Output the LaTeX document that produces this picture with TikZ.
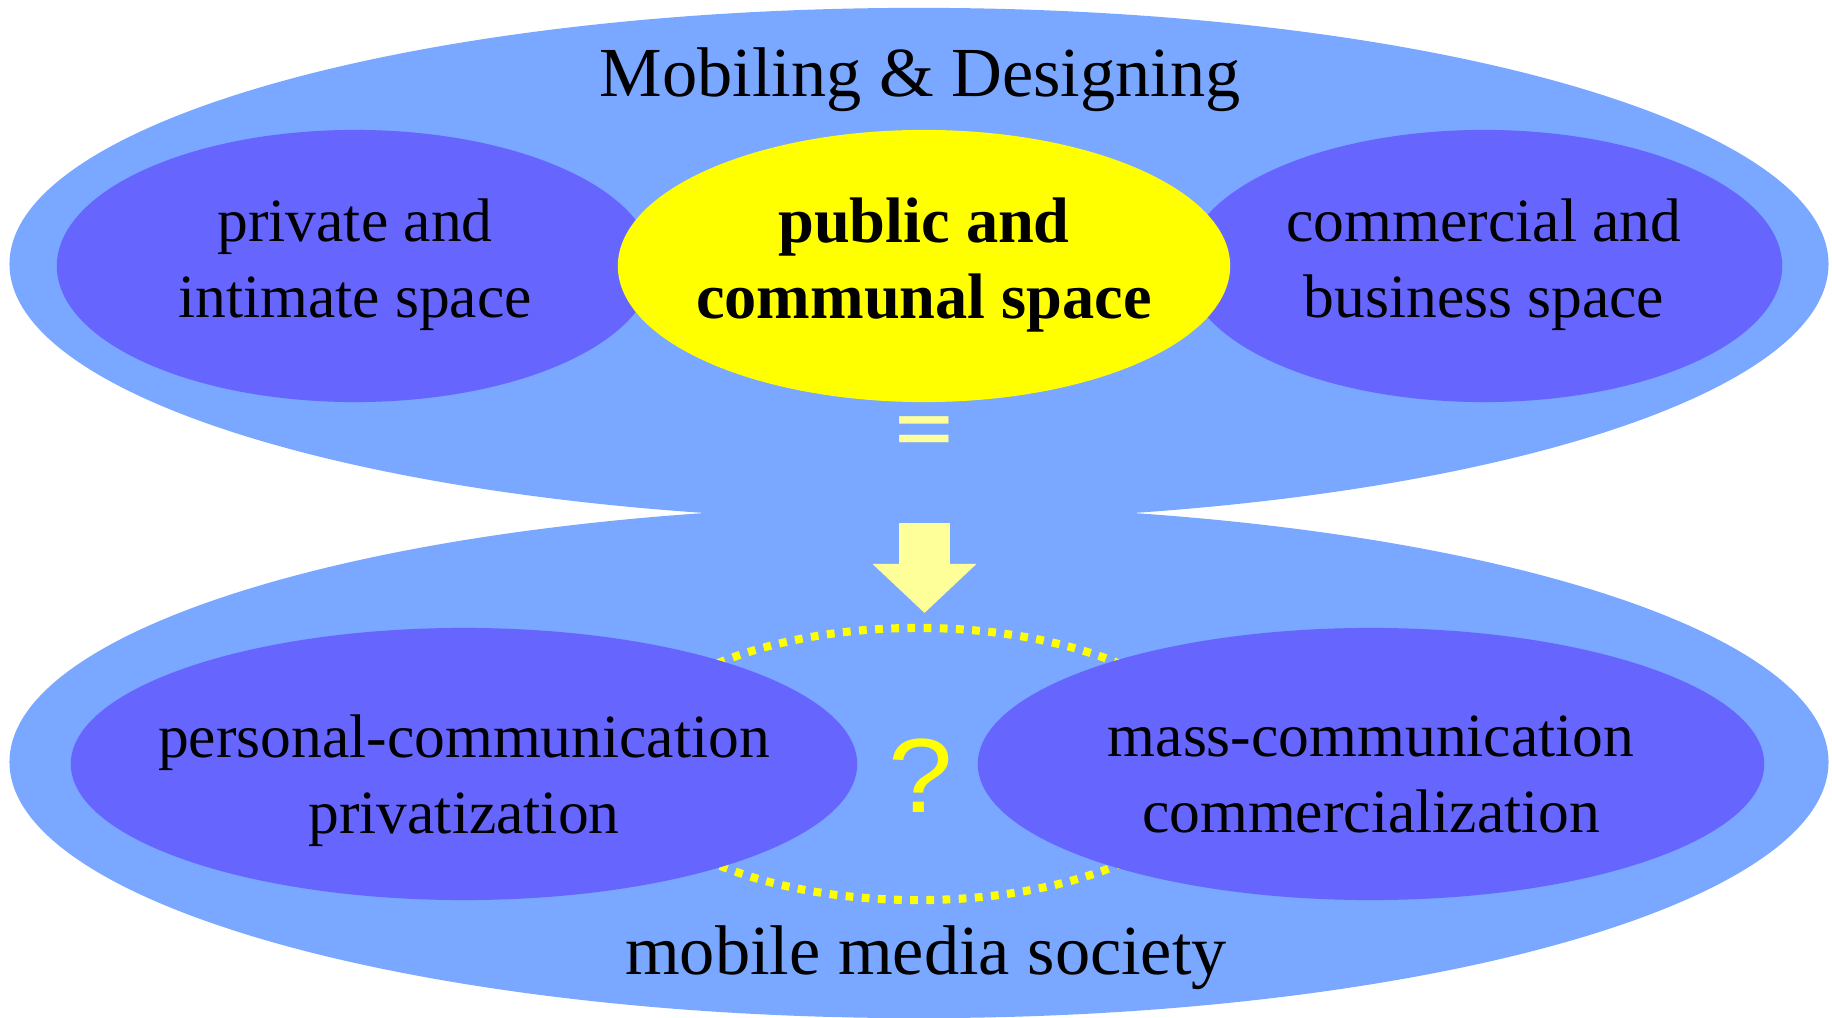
\documentclass[tikz,border=0pt]{standalone}
\usepackage{fontspec}
\setmainfont{Liberation Serif}
\newfontfamily\marksfont{Liberation Sans}
\usetikzlibrary{shapes.geometric,arrows.meta}
\definecolor{skyblue}{RGB}{122,167,255}
\definecolor{bandblue}{RGB}{102,102,255}
\definecolor{brightyellow}{RGB}{255,255,0}
\definecolor{paleyellow}{RGB}{255,255,153}

\begin{document}
\begin{tikzpicture}[x=0.01cm, y=-0.01cm,
    halo/.style={ellipse, fill=skyblue, inner sep=0pt,
                 minimum width=18.18cm, minimum height=5.12cm},
    caption/.style={align=center, font=\fontsize{17.5}{21.6}\selectfont},
    zone/.style={ellipse, fill=bandblue, inner sep=0pt,
                 minimum width=5.96cm, minimum height=2.72cm},
    widezone/.style={zone, minimum width=7.86cm},
    ring/.style={ellipse, draw=brightyellow, line width=2.3pt,
                 dash pattern=on 2.2pt off 2.4pt,
                 minimum width=5.96cm, minimum height=2.72cm},
    heading/.style={anchor=base, font=\fontsize{20}{24}\selectfont}]
\useasboundingbox (0,0) rectangle (1832,1018);
\node[halo] (mobiling) at (919,264) {};
\node[halo] (society)  at (919,762) {};
\node[zone] (private)    at (355,266)  {};
\node[zone] (commercial) at (1484,266) {};
\node[zone, fill=brightyellow, minimum width=6.12cm] (public) at (924,266) {};
\node[ring] (between) at (918,764) {};
\node[widezone] (personal) at (464,764)  {};
\node[widezone] (mass)     at (1371,764) {};
\node[caption] (privatetext)    at (355,265)  {private and\\intimate space};
\node[caption, font=\bfseries\fontsize{18.3}{21.6}\selectfont] (publictext) at (924,265)
      {public and\\communal space};
\node[caption] (commercialtext) at (1484,265) {commercial and\\business space};
\node[caption] (personaltext) at (464,781)  {personal-communication\\privatization};
\node[caption] (masstext)     at (1371,774) {mass-communication\\commercialization};
\node[heading] (designing) at (920,97)  {Mobiling \& Designing};
\node[heading] (media)     at (926,974) {mobile media society};
\node[anchor=base, text=paleyellow,
      font=\marksfont\bfseries\fontsize{28}{28}\selectfont] (equals) at (924,452) {\scalebox{1}[0.7]{=}};
\node[anchor=base, text=brightyellow,
      font=\marksfont\fontsize{30}{30}\selectfont] (query) at (921,812) {\scalebox{1.1}[1]{?}};
\coordinate (tail) at (924.5,523);
\coordinate (tip)  at (924.5,613);
\draw[paleyellow, line width=0.51cm, -{Triangle[width=1.01cm, length=0.49cm]}] (tail) -- (tip);
\end{tikzpicture}
\end{document}
